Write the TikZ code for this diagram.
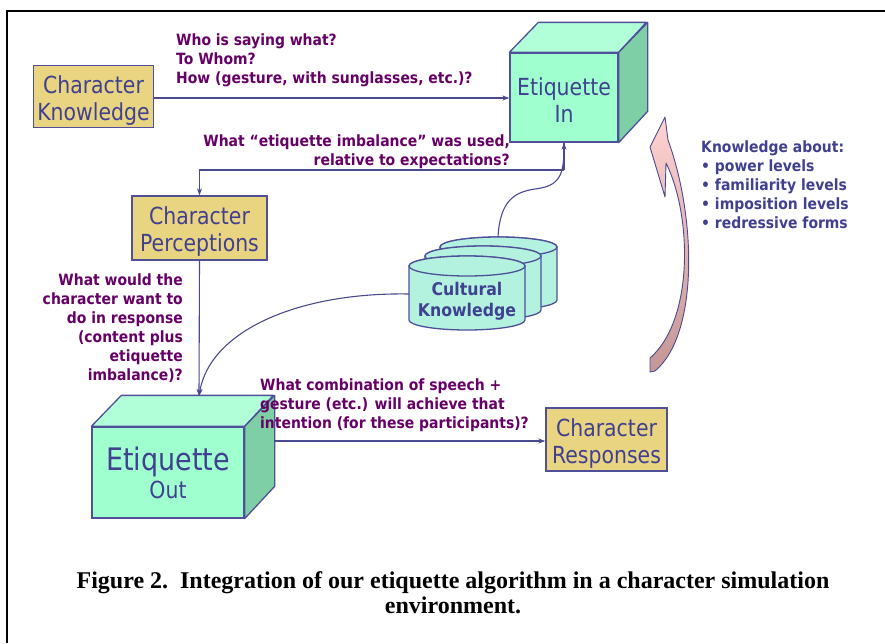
\documentclass[tikz,border=0pt]{standalone}
\usepackage{fontspec}
\setmainfont{Liberation Serif}
\newfontfamily\boxfont[FakeStretch=0.87]{DejaVu Sans}
\newfontfamily\lblfont[FakeStretch=0.9]{DejaVu Sans Bold}
\usetikzlibrary{arrows.meta}
\newcommand\dropsp[1]{\rule{0pt}{#1}}
\definecolor{lblc}{HTML}{660066}
\definecolor{txtc}{HTML}{404090}
\definecolor{bordc}{HTML}{50509A}
\definecolor{linec}{HTML}{4A4A90}
\definecolor{boxc}{HTML}{E9D581}
\definecolor{frontc}{HTML}{9FFFCF}
\definecolor{topc}{HTML}{B0FFD8}
\definecolor{sidec}{HTML}{7ECEA6}
\definecolor{cylc}{HTML}{B3F2DF}
\definecolor{pinktop}{HTML}{FFD2D2}
\definecolor{pinkbot}{HTML}{C49696}
\tikzset{
  boxst/.style={draw=bordc, fill=boxc, line width=1.3pt, text=txtc, align=center,
    inner sep=0pt, font=\boxfont\fontsize{23.5}{27}\selectfont},
  cubefront/.style={draw=bordc, fill=frontc, line width=1.3pt, text=txtc, align=center,
    inner sep=0pt, font=\boxfont\fontsize{23.5}{27}\selectfont},
  cubetop/.style={draw=bordc, fill=topc, line width=1.3pt, line join=round},
  cubeside/.style={draw=bordc, fill=sidec, line width=1.3pt, line join=round},
  cylst/.style={draw=bordc, fill=cylc, line width=1.3pt},
  lbl/.style={text=lblc, inner sep=0pt, font=\lblfont\fontsize{15.5}{19}\selectfont},
  kbl/.style={text=txtc, inner sep=0pt, font=\lblfont\fontsize{15.5}{19}\selectfont},
  arr/.style={draw=linec, line width=1.1pt, -{Stealth[length=7pt,width=5pt]}},
  plainline/.style={draw=linec, line width=1.1pt},
  pinkarrow/.style={draw=linec, line width=0.9pt, top color=pinktop, bottom color=pinkbot, line join=round},
}
\begin{document}
\begin{tikzpicture}[x=1pt,y=-1pt]
\useasboundingbox[fill=white] (0,0) rectangle (885,643);
% frame
\draw[line width=2pt] (7,643) -- (7,11) -- (885,11);

% boxes
\node[boxst, minimum width=120pt, minimum height=62pt] (ck) at (93.5,96.5) {\dropsp{26pt}Character\\Knowledge};
\node[boxst, minimum width=135pt, minimum height=64pt] (cp) at (199.5,228) {\dropsp{24pt}Character\\Perceptions};
\node[boxst, minimum width=121pt, minimum height=63pt] (cr) at (606.5,439.5) {\dropsp{25pt}Character\\Responses};

% Etiquette In cube
\node[cubefront, minimum width=108pt, minimum height=89pt] (ein) at (564,97.5) {\dropsp{22pt}Etiquette\\In};
\draw[cubetop] (ein.north west) -- ++(29,-30) -- ++(108,0) -- (ein.north east) -- cycle;
\draw[cubeside] (ein.north east) -- ++(29,-30) -- ++(0,89) -- (ein.south east) -- cycle;

% Etiquette Out cube
\node[cubefront, minimum width=152pt, minimum height=91pt] (eout) at (168,472.5)
  {{\fontsize{31}{31}\selectfont Etiquette}\\[1pt]{\fontsize{23.5}{24}\selectfont Out}};
\draw[cubetop] (eout.north west) -- ++(30,-31) -- ++(152,0) -- (eout.north east) -- cycle;
\draw[cubeside] (eout.north east) -- ++(30,-31) -- ++(0,91) -- (eout.south east) -- cycle;
\coordinate (eotop) at (199,396);
\coordinate (eoside) at (274,441);

% Cultural knowledge cylinders (back to front)
\filldraw[cylst] (440,247) -- (440,300) arc[start angle=180,end angle=0,x radius=58.5,y radius=10] -- (557,247) arc[start angle=0,end angle=-180,x radius=58.5,y radius=10] -- cycle;
\draw[cylst] (498.5,247) ellipse[x radius=58.5,y radius=10];
\filldraw[cylst] (425,256) -- (425,310) arc[start angle=180,end angle=0,x radius=58,y radius=10] -- (541,256) arc[start angle=0,end angle=-180,x radius=58,y radius=10] -- cycle;
\draw[cylst] (483,256) ellipse[x radius=58,y radius=10];
\filldraw[cylst] (409,266) -- (409,320) arc[start angle=180,end angle=0,x radius=58,y radius=10] -- (525,266) arc[start angle=0,end angle=-180,x radius=58,y radius=10] -- cycle;
\draw[cylst] (467,266) ellipse[x radius=58,y radius=10];
\node[text=txtc, align=center, inner sep=0pt, font=\lblfont\fontsize{17.5}{21}\selectfont] (cul) at (467,301) {Cultural\\Knowledge};
\coordinate (culL) at (409,294);
\coordinate (culT) at (498,237);

% connectors
\draw[arr] (ck.east |- 0,98) -- (ein.west |- 0,98);
\coordinate (elbow) at (ein.south |- 0,170);
\draw[plainline] (ein.south) -- (elbow);
\draw[arr] (elbow) -| (cp.north);
\draw[arr] (cp.south) -- (eotop);
\draw[arr] (culL) .. controls (300,292) and (210,330) .. (eotop);
\draw[arr] (culT) .. controls (500,200) and (515,192) .. (535,189) .. controls (560,186) and (564,175) .. (ein.south);
\draw[arr] (eoside) -- (eoside -| cr.west);

% pink curved arrow
\draw[pinkarrow] (665,117) -- (650,147) -- (665,197) -- (666,163) .. controls (692,215) and (694,320) .. (650,358) -- (650,372) -- (655,371) .. controls (698,335) and (697,220) .. (668,140) -- cycle;

% labels
\node[lbl, anchor=north west, align=left] (l1) at (176,33.5) {Who is saying what?\\To Whom?\\How (gesture, with sunglasses, etc.)?};
\node[lbl, anchor=north east, align=right] (l2) at (510,134.5) {What “etiquette imbalance” was used,\hspace{6pt}\\relative to expectations?};
\node[lbl, anchor=north east, align=right] (l3) at (183,273.5) {What would the\\character want to\\do in response\\(content plus\\etiquette\\imbalance)?};
\node[lbl, anchor=north west, align=left] (l4) at (260,378.5) {What combination of speech +\\gesture (etc.) will achieve that\\intention (for these participants)?};
\node[kbl, anchor=north west, align=left] (kn) at (701,140.5) {Knowledge about:\\• power levels\\• familiarity levels\\• imposition levels\\• redressive forms};

% caption
\node[align=center, inner sep=0pt, font=\bfseries\fontsize{24}{25}\selectfont] (cap) at (453,593) {Figure 2.\ \ Integration of our etiquette algorithm in a character simulation\\environment.};
\end{tikzpicture}
\end{document}
